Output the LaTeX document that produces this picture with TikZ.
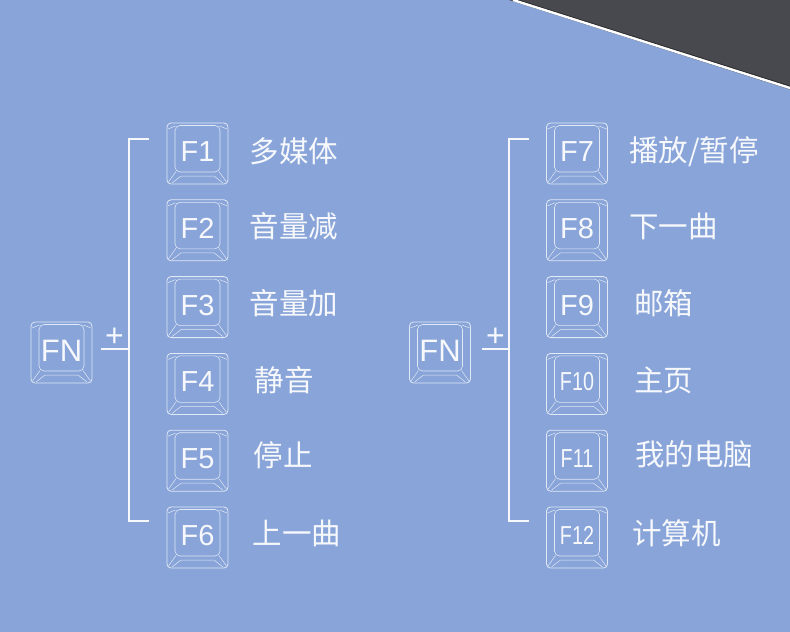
\documentclass[tikz,border=0pt]{standalone}
\usepackage{fontspec}
\usepackage{tikz}
\usepackage{xcolor}
\usepackage{graphicx}
\usetikzlibrary{positioning, calc}
\newfontfamily\keyfont{Liberation Sans}
\newfontfamily\cjk{Noto Sans CJK SC}
\definecolor{panelBlue}{RGB}{136,164,216}
\definecolor{deskGray}{RGB}{72,73,78}
\definecolor{capLine}{RGB}{226,233,246}
\definecolor{capText}{RGB}{246,248,252}

\begin{document}
\begin{tikzpicture}[x=1pt, y=-1pt,
    keycap/.style={draw=capLine, line width=0.8pt, rounded corners=4pt,
        minimum width=61pt, minimum height=61pt, inner sep=0pt, text=capText,
        font=\keyfont\fontsize{29}{29}\selectfont,
        path picture={
            \coordinate (kSW) at (path picture bounding box.south west);
            \coordinate (kNE) at (path picture bounding box.north east);
            \coordinate (kSE) at (kSW -| kNE);
            \coordinate (kNW) at (kNE -| kSW);
            \draw[capLine, line width=0.6pt, rounded corners=5pt]
                ($(kSW)+(8pt,12pt)$) rectangle ($(kNE)+(-8pt,-2.5pt)$);
            \draw[capLine, line width=0.5pt, sharp corners]
                ($(kSW)+(9pt,12.5pt)$) -- ($(kSW)+(1.5pt,2pt)$)
                ($(kSW)+(14pt,8pt)$) -- ($(kSW)+(5pt,1pt)$)
                ($(kSW)+(14pt,8pt)$) -- ($(kSE)+(-14pt,8pt)$)
                ($(kSE)+(-9pt,12.5pt)$) -- ($(kSE)+(-1.5pt,2pt)$)
                ($(kSE)+(-14pt,8pt)$) -- ($(kSE)+(-5pt,1pt)$)
                ($(kNW)+(8.5pt,-3pt)$) -- ($(kNW)+(1pt,-6pt)$)
                ($(kNE)+(-8.5pt,-3pt)$) -- ($(kNE)+(-1pt,-6pt)$);
        }},
    fnText/.style={text=capText, font=\cjk\fontsize{29.5}{29.5}\selectfont, inner sep=0pt},
    plusText/.style={text=capText, font=\keyfont\fontsize{32}{32}\selectfont, inner sep=0pt},
    bracket/.style={draw=capText, line width=1.8pt}]

% background and desk corner
\useasboundingbox (0,0) rectangle (790,632);
\fill[panelBlue] (0,0) rectangle (790,632);
\fill[deskGray] (509,0) -- (790,89.5) -- (790,0) -- cycle;
\draw[black!85, line width=1pt] (518,0) -- (790,86.3);
\draw[white, line width=2.4pt] (513,0) -- (790,88);

% left group
\node[keycap, font=\keyfont\fontsize{31}{31}\selectfont] (fnL) at (61.5,352.5) {\raisebox{4pt}{FN}};
\node[keycap] (f1) at (197.5,153.5) {\raisebox{4pt}{F1}};
\node[keycap, below=15pt of f1] (f2) {\raisebox{4pt}{F2}};
\node[keycap, below=15pt of f2] (f3) {\raisebox{4pt}{F3}};
\node[keycap, below=15pt of f3] (f4) {\raisebox{4pt}{F4}};
\node[keycap, below=15pt of f4] (f5) {\raisebox{4pt}{F5}};
\node[keycap, below=15pt of f5] (f6) {\raisebox{4pt}{F6}};

\node[fnText, right=21pt of f1, yshift=2pt] (lbl1) {多媒体};
\node[fnText, right=21pt of f2, yshift=4pt] (lbl2) {音量减};
\node[fnText, right=21pt of f3, yshift=4pt] (lbl3) {音量加};
\node[fnText, right=26pt of f4, yshift=4pt] (lbl4) {静音};
\node[fnText, right=25pt of f5, yshift=6pt] (lbl5) {停止};
\node[fnText, right=24pt of f6, yshift=4pt] (lbl6) {上一曲};

\node[plusText] (plusL) at (114.5,337.5) {+};
\coordinate (topL) at ($(f1.west)+(-38,-14.5)$);
\coordinate (botL) at ($(f6.west)+(-38,-16.5)$);
\coordinate (joinL) at ([xshift=9pt, yshift=3.5pt]fnL.east);
\draw[bracket] ($(topL)+(20,0)$) -- (topL) -- (botL) -- ($(botL)+(20,0)$);
\draw[bracket] (joinL) -- (joinL -| topL);

% right group
\node[keycap, font=\keyfont\fontsize{31}{31}\selectfont] (fnR) at (440,352.5) {\raisebox{4pt}{FN}};
\node[keycap] (f7) at (577,153.5) {\raisebox{4pt}{F7}};
\node[keycap, below=15pt of f7] (f8) {\raisebox{4pt}{F8}};
\node[keycap, below=15pt of f8] (f9) {\raisebox{4pt}{F9}};
\node[keycap, below=15pt of f9, font=\keyfont\fontsize{26}{26}\selectfont] (f10) {\raisebox{4pt}{\scalebox{0.76}[1]{F10}}};
\node[keycap, below=15pt of f10, font=\keyfont\fontsize{26}{26}\selectfont] (f11) {\raisebox{4pt}{\scalebox{0.76}[1]{F11}}};
\node[keycap, below=15pt of f11, font=\keyfont\fontsize{26}{26}\selectfont] (f12) {\raisebox{4pt}{\scalebox{0.76}[1]{F12}}};

\node[fnText, right=21pt of f7, yshift=2pt] (lbl7) {播放/暂停};
\node[fnText, right=21pt of f8, yshift=4pt] (lbl8) {下一曲};
\node[fnText, right=26pt of f9, yshift=4pt] (lbl9) {邮箱};
\node[fnText, right=26pt of f10, yshift=4pt] (lbl10) {主页};
\node[fnText, right=27pt of f11, yshift=6pt] (lbl11) {我的电脑};
\node[fnText, right=24pt of f12, yshift=4pt] (lbl12) {计算机};

\node[plusText] (plusR) at (495.5,337.5) {+};
\coordinate (topR) at ($(f7.west)+(-37,-14.5)$);
\coordinate (botR) at ($(f12.west)+(-37,-16.5)$);
\coordinate (joinR) at ([xshift=11pt, yshift=3.5pt]fnR.east);
\draw[bracket] ($(topR)+(20,0)$) -- (topR) -- (botR) -- ($(botR)+(20,0)$);
\draw[bracket] (joinR) -- (joinR -| topR);
\end{tikzpicture}
\end{document}
